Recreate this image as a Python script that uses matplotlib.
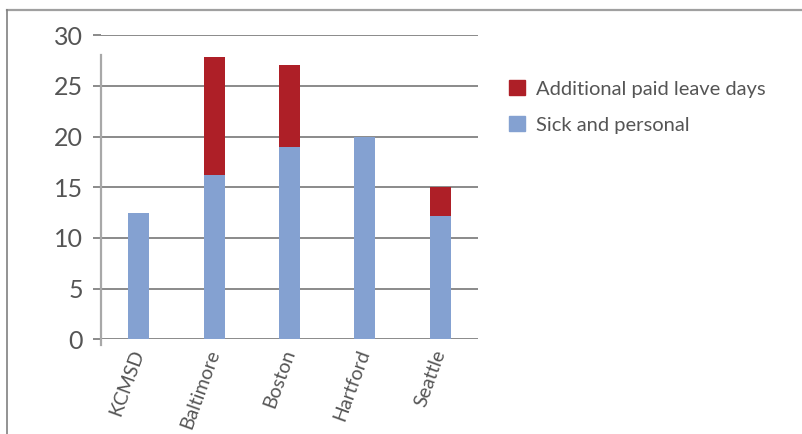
import matplotlib
matplotlib.use('Agg')
import matplotlib.pyplot as plt
from matplotlib.lines import Line2D
from matplotlib.patches import Patch
import numpy as np

plt.rcParams['font.family'] = ['Lato', 'DejaVu Sans']

# data
districts = ['KCMSD', 'Baltimore', 'Boston', 'Hartford', 'Seattle']
sick_personal = [12.5, 16.2, 19.0, 20.0, 12.2]
additional_paid = [0.0, 11.7, 8.1, 0.0, 2.8]
y_ticks = [0, 5, 10, 15, 20, 25, 30]

W, H = 802, 434
red = '#AE1F27'
blue = '#84A1D1'
txt = '#555555'
grid_col = '#6b6b6b'

fig = plt.figure(figsize=(W / 100, H / 100), dpi=100)
ax = fig.add_axes([101 / W, (H - 339.3) / H, (478 - 101) / W, (339.3 - 35.3) / H])

x = np.arange(len(districts))
ax.bar(x, sick_personal, width=0.28, color=blue, zorder=3)
ax.bar(x, additional_paid, width=0.28, bottom=sick_personal, color=red, zorder=3)

ax.set_xlim(-0.5, len(districts) - 0.5)
ax.set_ylim(0, 30)
ax.set_yticks(y_ticks)
ax.set_yticklabels([str(v) for v in y_ticks], fontsize=18, color=txt)
ax.yaxis.grid(True, color=grid_col, linewidth=1.1, zorder=0)
ax.tick_params(axis='y', length=5.8, color=grid_col, width=1.1, pad=7)
ax.tick_params(axis='x', length=0, pad=8)
ax.set_xticks(x)
ax.set_xticklabels(districts, rotation=70, ha='right', va='center',
                   rotation_mode='anchor', fontsize=14, color=txt)
for s in ['top', 'right', 'left', 'bottom']:
    ax.spines[s].set_visible(False)

# light vertical axis line (drawn like the original, slightly longer than the plot)
fig.add_artist(Line2D([101 / W, 101 / W], [1 - 55 / H, 1 - 345 / H],
                      color='#a8a8a8', linewidth=1.6))
# outer frame (top and left edge only)
fig.add_artist(Line2D([7 / W, 1.0], [1 - 9.5 / H, 1 - 9.5 / H], color='#a0a0a0', linewidth=1.6))
fig.add_artist(Line2D([7 / W, 7 / W], [1 - 9.5 / H, 0.0], color='#808080', linewidth=1.2))

handles = [Patch(color=red), Patch(color=blue)]
fig.legend(handles, ['Additional paid leave days', 'Sick and personal'],
           loc='upper left', bbox_to_anchor=(509 / W, 1 - 80 / H),
           frameon=False, fontsize=14.5, labelcolor=txt, borderpad=0, borderaxespad=0,
           handlelength=0.8, handleheight=0.8, handletextpad=0.55, labelspacing=0.9)

fig.savefig('out.png', dpi=100)
